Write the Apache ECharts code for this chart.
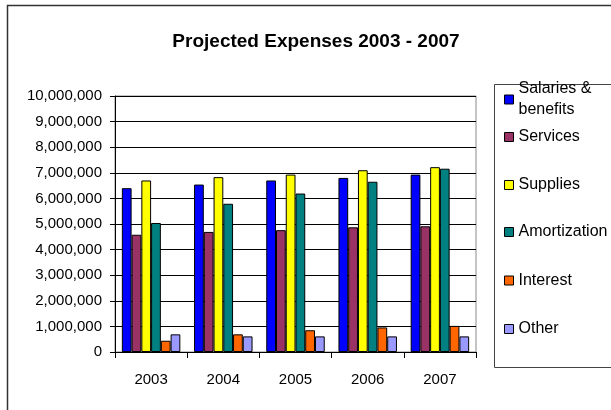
<!DOCTYPE html>
<html>
<head>
<meta charset="utf-8">
<title>Projected Expenses 2003 - 2007</title>
<script src="https://cdn.jsdelivr.net/npm/echarts@6/dist/echarts.min.js"></script>
<style>
  html, body { margin: 0; padding: 0; background: #fff; }
  #chart { width: 611px; height: 410px; }
</style>
</head>
<body>
<div id="chart"></div>
<script>
// Years on the category axis
const years = ['2003', '2004', '2005', '2006', '2007'];

// Projected expense lines, one value per year
const salaries     = [6400000, 6540000, 6700000, 6800000, 6930000];
const services     = [4580000, 4690000, 4760000, 4870000, 4910000];
const supplies     = [6700000, 6830000, 6930000, 7100000, 7220000];
const amortization = [5040000, 5790000, 6190000, 6650000, 7160000];
const interest     = [440000, 690000, 850000, 960000, 1020000];
const other        = [690000, 610000, 610000, 610000, 610000];

// Value axis range and step
const yMin = 0;
const yMax = 10000000;
const yStep = 1000000;

const seriesNames = ['Salaries & benefits', 'Services', 'Supplies', 'Amortization', 'Interest', 'Other'];
const seriesData = [salaries, services, supplies, amortization, interest, other];
const seriesColors = ['#0000FF', '#993366', '#FFFF00', '#008080', '#FF6600', '#9999FF'];

// Vertical centre of each legend entry
const legendCenters = [99.5, 137, 185, 232, 280.5, 329];

const FONT = '"Liberation Sans", Arial, sans-serif';

const chart = echarts.init(document.getElementById('chart'), null, { renderer: 'canvas' });

function withCommas(v) {
  return String(v).replace(/\B(?=(\d{3})+(?!\d))/g, ',');
}

// One legend block per series so each entry sits at its own height
const legends = seriesNames.map(function (name, i) {
  const twoLine = i === 0;
  const lh = twoLine ? 21 : 20;
  const h = twoLine ? lh * 2 : lh;
  return {
    orient: 'vertical',
    left: 504,
    top: legendCenters[i] - h / 2,
    padding: 0,
    itemWidth: 9,
    itemHeight: 9,
    selectedMode: false,
    icon: 'rect',
    itemStyle: { borderColor: '#000', borderWidth: 1 },
    textStyle: { fontFamily: FONT, fontSize: 16, color: '#000', lineHeight: lh },
    formatter: function (n) {
      return n === 'Salaries & benefits' ? 'Salaries &\nbenefits' : n;
    },
    data: [name]
  };
});

const option = {
  backgroundColor: '#fff',
  animation: false,
  title: {
    text: 'Projected Expenses 2003 - 2007',
    left: 311,
    top: 27,
    textAlign: 'center',
    textStyle: { fontFamily: FONT, fontSize: 19, fontWeight: 'bold', color: '#000' }
  },
  legend: legends,
  graphic: [
    {
      // chart frame
      type: 'rect',
      silent: true,
      shape: { x: 7.5, y: 5.5, width: 620, height: 420 },
      style: { fill: 'none', stroke: '#333', lineWidth: 1.5 }
    },
    {
      // legend frame
      type: 'rect',
      silent: true,
      shape: { x: 494.5, y: 84.5, width: 140, height: 283 },
      style: { fill: 'none', stroke: '#444', lineWidth: 1 }
    }
  ],
  grid: {
    left: 115,
    right: 135,
    top: 96,
    bottom: 58,
    show: true,
    borderColor: '#888',
    borderWidth: 1,
    backgroundColor: 'transparent'
  },
  xAxis: {
    type: 'category',
    data: years,
    boundaryGap: true,
    axisLine: { show: true, lineStyle: { color: '#000', width: 1 } },
    axisTick: { show: true, length: 6, alignWithLabel: false, lineStyle: { color: '#000' } },
    axisLabel: { fontFamily: FONT, fontSize: 15, color: '#000', margin: 20 },
    splitLine: { show: false }
  },
  yAxis: {
    type: 'value',
    min: yMin,
    max: yMax,
    interval: yStep,
    axisLine: { show: true, lineStyle: { color: '#000', width: 1 } },
    axisTick: { show: true, length: 5, lineStyle: { color: '#000' } },
    axisLabel: {
      fontFamily: FONT, fontSize: 15, color: '#000', margin: 13,
      formatter: withCommas
    },
    splitLine: { show: true, lineStyle: { color: '#000', width: 1 } }
  },
  series: seriesNames.map(function (name, i) {
    return {
      name: name,
      type: 'bar',
      data: seriesData[i],
      barWidth: '13.5%',
      barGap: '0%',
      itemStyle: { color: seriesColors[i], borderColor: '#000', borderWidth: 1 }
    };
  })
};

chart.setOption(option);
</script>
</body>
</html>
